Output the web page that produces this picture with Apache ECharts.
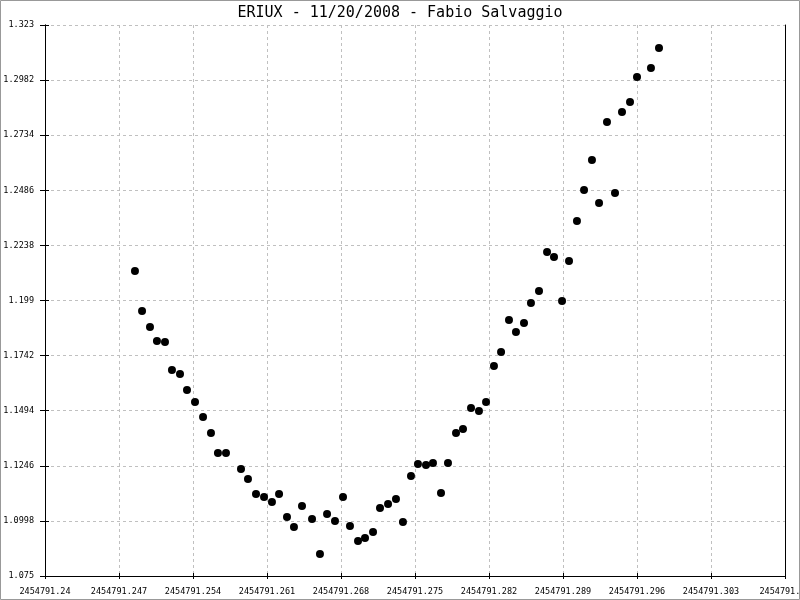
<!DOCTYPE html>
<html>
<head>
<meta charset="utf-8">
<script src="https://cdn.jsdelivr.net/npm/echarts@6/dist/echarts.min.js"></script>
<style>
html,body{margin:0;padding:0;background:#fff;}
#chart{width:800px;height:600px;}
</style>
</head>
<body>
<div id="chart"></div>
<script>
// ---- data ----
var titleText = 'ERIUX - 11/20/2008 - Fabio Salvaggio';
var xTickLabels = ['2454791.24','2454791.247','2454791.254','2454791.261','2454791.268','2454791.275','2454791.282','2454791.289','2454791.296','2454791.303','2454791.31'];
var yTickLabels = ['1.075','1.0998','1.1246','1.1494','1.1742','1.199','1.2238','1.2486','1.2734','1.2982','1.323'];
var xStart = 2454791.24, xStep = 0.007;
var yStart = 1.075, yStep = 0.0248;

var jd = [
  2454791.24851, 2454791.24918, 2454791.24993, 2454791.25059, 2454791.25135, 2454791.25201,
  2454791.25277, 2454791.25343, 2454791.25419, 2454791.25495, 2454791.25570, 2454791.25636,
  2454791.25712, 2454791.25854, 2454791.25920, 2454791.25996, 2454791.26072, 2454791.26147,
  2454791.26214, 2454791.26289, 2454791.26355, 2454791.26431, 2454791.26526, 2454791.26601,
  2454791.26668, 2454791.26743, 2454791.26819, 2454791.26885, 2454791.26961, 2454791.27027,
  2454791.27103, 2454791.27169, 2454791.27245, 2454791.27320, 2454791.27386, 2454791.27462,
  2454791.27528, 2454791.27604, 2454791.27670, 2454791.27746, 2454791.27812, 2454791.27888,
  2454791.27954, 2454791.28030, 2454791.28105, 2454791.28172, 2454791.28247, 2454791.28314,
  2454791.28389, 2454791.28455, 2454791.28531, 2454791.28597, 2454791.28673, 2454791.28749,
  2454791.28815, 2454791.28891, 2454791.28957, 2454791.29032, 2454791.29099, 2454791.29174,
  2454791.29241, 2454791.29316, 2454791.29392, 2454791.29458, 2454791.29534, 2454791.29600,
  2454791.29732, 2454791.29808
];
var mag = [
  1.2123, 1.1943, 1.1871, 1.1808, 1.1803, 1.1677,
  1.1659, 1.1587, 1.1533, 1.1466, 1.1394, 1.1304,
  1.1304, 1.1232, 1.1187, 1.1119, 1.1106, 1.1083,
  1.1119, 1.1016, 1.0971, 1.1065, 1.1007, 1.0849,
  1.1029, 1.0998, 1.1106, 1.0975, 1.0908, 1.0921,
  1.0948, 1.1056, 1.1074, 1.1097, 1.0993, 1.1200,
  1.1254, 1.1250, 1.1259, 1.1124, 1.1259, 1.1394,
  1.1412, 1.1506, 1.1493, 1.1533, 1.1695, 1.1758,
  1.1902, 1.1848, 1.1889, 1.1979, 1.2033, 1.2208,
  1.2186, 1.1988, 1.2168, 1.2348, 1.2487, 1.2622,
  1.2429, 1.2793, 1.2474, 1.2838, 1.2883, 1.2996,
  1.3036, 1.3126
];

// ---- chart ----
var points = jd.map(function (x, i) {
  return [(x - xStart) / xStep, (mag[i] - yStart) / yStep];
});
var FONT = 'DejaVu Sans Mono';
var labelStyle = {fontFamily: FONT, fontSize: 8.5, color: '#000'};
var split = {show: true, lineStyle: {color: '#c0c0c0', type: [3, 3], width: 1}};

function xAx(extra) {
  return Object.assign({
    type: 'value', min: 0, max: 10, interval: 1, position: 'bottom',
    axisLine: {show: true, onZero: false, lineStyle: {color: '#000', width: 1}},
    axisTick: {show: true, length: 3, lineStyle: {color: '#000'}},
    axisLabel: {show: false}, splitLine: {show: false}
  }, extra);
}
function yAx(extra) {
  return Object.assign({
    type: 'value', min: 0, max: 10, interval: 1, position: 'left',
    axisLine: {show: true, onZero: false, lineStyle: {color: '#000', width: 1}},
    axisTick: {show: true, length: 4, lineStyle: {color: '#000'}},
    axisLabel: {show: false}, splitLine: {show: false}
  }, extra);
}

var chart = echarts.init(document.getElementById('chart'), null, {renderer: 'canvas'});
chart.setOption({
  animation: false,
  backgroundColor: '#fff',
  title: {
    text: titleText, left: 'center', top: 1,
    textStyle: {fontFamily: FONT, fontSize: 15, fontWeight: 'normal', color: '#000'}
  },
  grid: {left: 45, right: 15, top: 25, bottom: 24, containLabel: false, outerBoundsMode: 'none'},
  xAxis: [
    xAx({
      axisTick: {show: true, length: 3, lineStyle: {color: '#000'}},
      axisLabel: Object.assign({show: true, margin: 11, interval: 0, showMinLabel: true, showMaxLabel: true, hideOverlap: false,
        formatter: function (v) { return xTickLabels[Math.round(v)]; }}, labelStyle),
      splitLine: split
    }),
    xAx({axisTick: {show: true, inside: true, length: 3, lineStyle: {color: '#000'}}})
  ],
  yAxis: [
    yAx({
      axisTick: {show: true, length: 5, lineStyle: {color: '#000'}},
      axisLabel: Object.assign({show: true, margin: 11, interval: 0, showMinLabel: true, showMaxLabel: true,
        formatter: function (v) { return yTickLabels[Math.round(v)]; }}, labelStyle),
      splitLine: split
    }),
    yAx({axisTick: {show: true, inside: true, length: 4, lineStyle: {color: '#000'}}}),
    yAx({position: 'right', axisTick: {show: false}})
  ],
  graphic: [{
    type: 'rect', z: 100, silent: true,
    shape: {x: 0.5, y: 0.5, width: 799, height: 599},
    style: {fill: 'none', stroke: '#999', lineWidth: 1}
  }],
  series: [{
    type: 'scatter', xAxisIndex: 0, yAxisIndex: 0,
    symbol: 'circle', symbolSize: 8,
    itemStyle: {color: '#000', opacity: 1},
    data: points
  }]
});
</script>
</body>
</html>
